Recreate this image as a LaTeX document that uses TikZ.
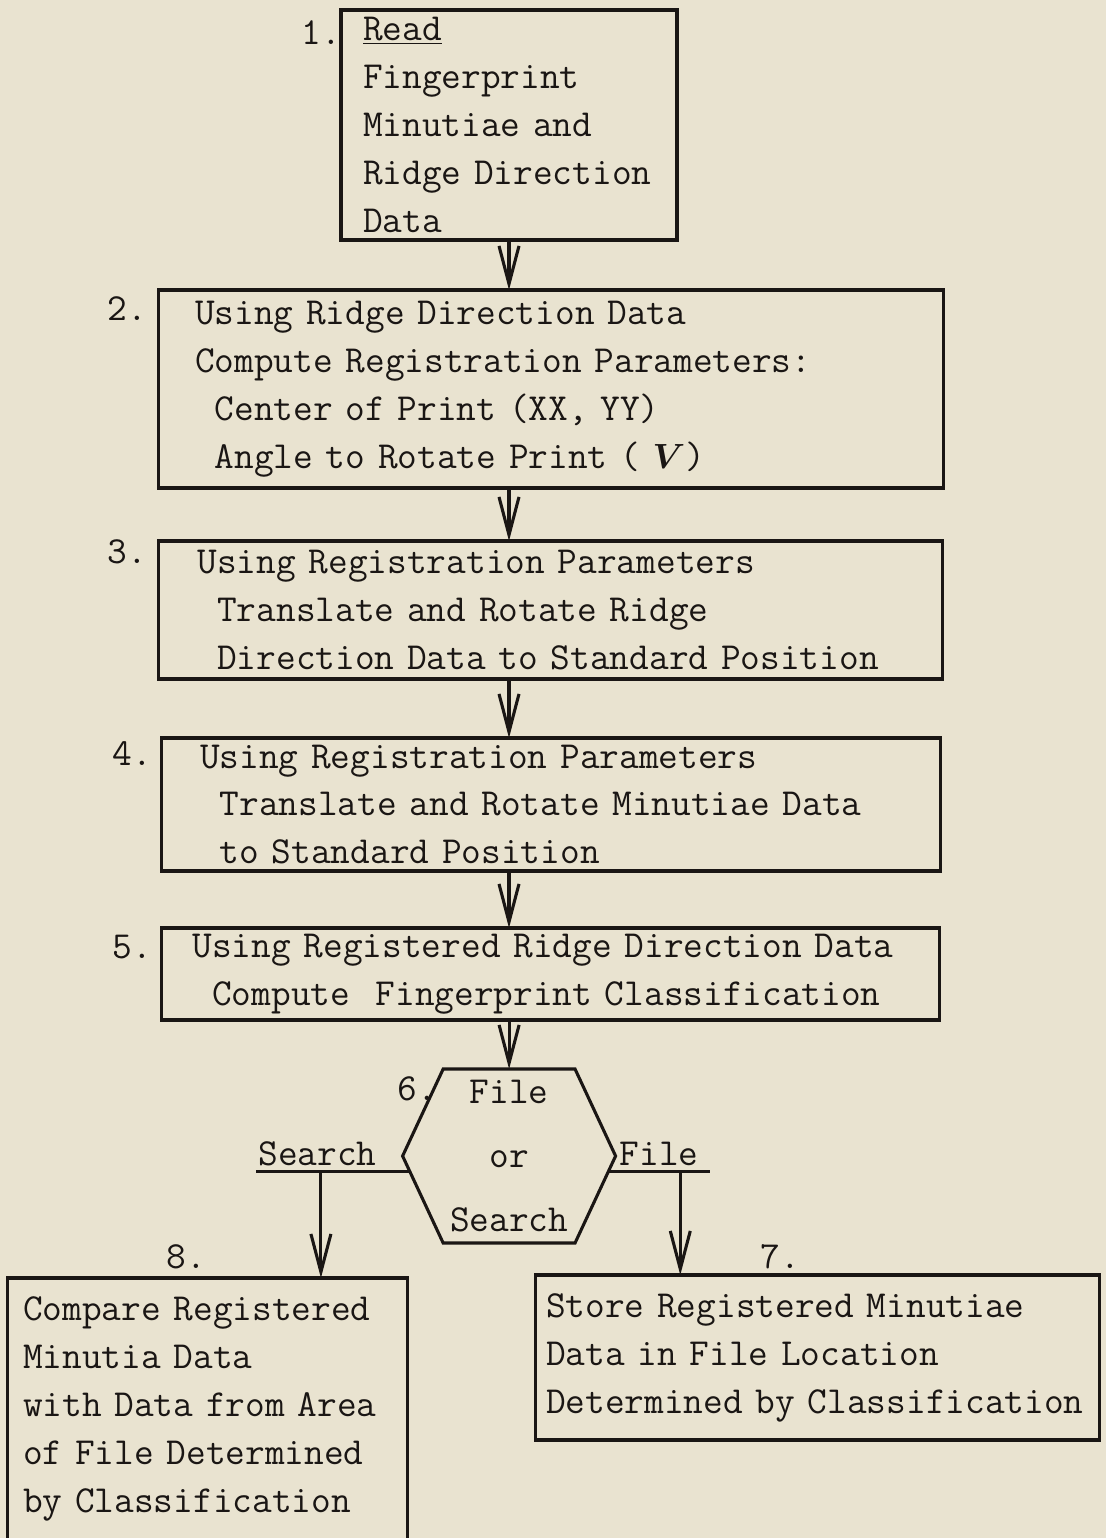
\documentclass[tikz,border=0pt]{standalone}
\usepackage{fontspec}
\usepackage{bm}
\usetikzlibrary{shapes,arrows.meta,positioning}
\definecolor{paper}{RGB}{233,227,208}
\definecolor{ink}{RGB}{26,22,20}
\newcommand{\ind}{\hphantom{0}}

\begin{document}
\begin{tikzpicture}[
    node distance=1.25cm,
    every node/.style={text=ink, font=\ttfamily\fontsize{27.2}{34.1}\selectfont},
    process/.style={rectangle, draw=ink, line width=2.2pt, align=left, inner sep=0pt, outer sep=0pt},
    decision/.style={signal, signal to=east and west, signal pointer angle=130, draw=ink, line width=2.2pt, align=center, inner sep=0pt, outer sep=0pt, minimum width=5.325cm, minimum height=4.35cm},
    num/.style={inner sep=0pt},
    branchlabel/.style={above, inner sep=0.1cm},
    arrow/.style={-{Straight Barb[length=0.95cm, width=0.5cm]}, draw=ink, line width=2.2pt},
    branch/.style={draw=ink, line width=2.2pt}
]

% Paper
\fill[paper] (0,0) rectangle (27.65,-38.45);
\useasboundingbox (0,0) rectangle (27.65,-38.45);

% Main chain of steps
\node[process, text width=7.3cm, minimum width=8.4cm, minimum height=5.75cm] (read) at (12.725,-3.125)
    {\underline{Read}\\Fingerprint\\Minutiae and\\Ridge Direction\\Data};
\node[process, below=1.25cm of read, xshift=1.04cm, text width=17.775cm, minimum width=19.625cm, minimum height=4.95cm] (register)
    {Using Ridge Direction Data\\Compute Registration Parameters:\\\ind Center of Print (XX, YY)\\\ind Angle to Rotate Print ( {\fontsize{34}{34.1}\selectfont$\bm{V}$})};
\node[process, below=1.325cm of register, text width=17.65cm, minimum width=19.6cm, minimum height=3.45cm] (ridge-std)
    {Using Registration Parameters\\\ind Translate and Rotate Ridge\\\ind Direction Data to Standard Position};
\node[process, below=1.475cm of ridge-std, text width=17.525cm, minimum width=19.475cm, minimum height=3.325cm] (minutiae-std)
    {Using Registration Parameters\\\ind Translate and Rotate Minutiae Data\\\ind to Standard Position};
\node[process, below=1.425cm of minutiae-std, text width=17.9cm, minimum width=19.45cm, minimum height=2.3cm] (classify)
    {Using Registered Ridge Direction Data\\\ind Compute\ \ Fingerprint Classification};

% Decision
\node[decision, below=1.225cm of classify, xshift=-1.0375cm] (file-or-search) {File\\[0.4cm]or\\[0.4cm]Search};

% Outcomes
\node[process, below=0.8cm of file-or-search, xshift=7.7cm, text width=13.55cm, minimum width=14.1cm, minimum height=4.125cm] (store)
    {Store Registered Minutiae\\Data in File Location\\Determined by Classification};
\node[process, below=0.875cm of file-or-search, xshift=-7.55cm, text width=9.2cm, minimum width=10cm, minimum height=6.56cm] (compare)
    {Compare Registered\\Minutia Data\\with Data from Area\\of File Determined\\by Classification};

% Step numbers
\node[num, left=0cm of read.north west, anchor=north east, yshift=-0.25cm] (num1) {1.};
\node[num, left=0.275cm of register.north west, anchor=north east, yshift=-0.15cm] (num2) {2.};
\node[num, left=0.275cm of ridge-std.north west, anchor=north east, yshift=0.05cm] (num3) {3.};
\node[num, left=0.225cm of minutiae-std.north west, anchor=north east, yshift=-0.075cm] (num4) {4.};
\node[num, left=0.225cm of classify.north west, anchor=north east, yshift=-0.175cm] (num5) {5.};
\node[num, below=0.175cm of file-or-search.north, anchor=north east, xshift=-1.8cm] (num6) {6.};
\node[num, above=0.15cm of store.north, xshift=-0.925cm] (num7) {7.};
\node[num, above=0.225cm of compare.north, xshift=-0.525cm] (num8) {8.};

% Arrows
\draw[arrow] (read.south) -- (read.south |- register.north);
\draw[arrow] (register.south -| read) -- (ridge-std.north -| read);
\draw[arrow] (ridge-std.south -| read) -- (minutiae-std.north -| read);
\draw[arrow] (minutiae-std.south -| read) -- (classify.north -| read);
\draw[arrow] (classify.south -| file-or-search) -- (file-or-search.north);

% Branches
\coordinate (search-end) at ([xshift=-3.85cm]file-or-search.189);
\coordinate (search-drop) at ([xshift=1.625cm]search-end);
\coordinate (file-end) at ([xshift=2.55cm]file-or-search.-9);
\coordinate (file-drop) at ([xshift=-0.75cm]file-end);
\draw[branch] (file-or-search.189) -- node[branchlabel, pos=0.6] {Search} (search-end);
\draw[branch] (file-or-search.-9) -- node[branchlabel] {File} (file-end);
\draw[arrow] (search-drop) -- (search-drop |- compare.north);
\draw[arrow] (file-drop) -- (file-drop |- store.north);

\end{tikzpicture}
\end{document}
